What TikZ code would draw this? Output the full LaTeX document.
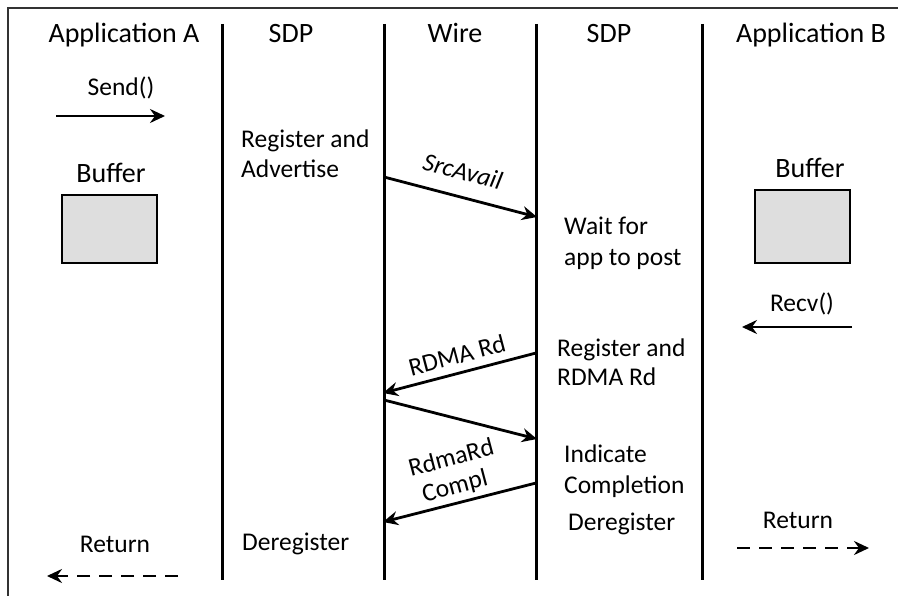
\documentclass[tikz,border=0pt]{standalone}
\usepackage{fontspec}
\setmainfont{Carlito}
\usetikzlibrary{arrows.meta}
\definecolor{boxfill}{RGB}{222,222,222}
\definecolor{framecol}{RGB}{50,50,50}
\begin{document}
\begin{tikzpicture}[x=1pt,y=-1pt,
  lbl/.style={inner sep=0pt,font=\fontsize{25.5}{30}\selectfont},
  head/.style={inner sep=0pt,font=\fontsize{28}{34}\selectfont},
  lifeline/.style={line width=3pt},
  msg/.style={line width=2.8pt,-{Stealth[length=15pt,width=14pt,inset=5pt]}},
  ret/.style={line width=2.8pt,dash pattern=on 13pt off 9pt,-{Stealth[length=15pt,width=14pt,inset=5pt]}},
  bufbox/.style={draw=black,line width=1.5pt,fill=boxfill}]
\useasboundingbox (0,0) rectangle (898,596);
% frame
\draw[framecol,line width=1.5pt] (898,8) -- (8,8) -- (8,596);
% lifelines
\coordinate (l1t) at (222,24); \coordinate (l1b) at (222,580);
\coordinate (l2t) at (384,24); \coordinate (l2b) at (384,580);
\coordinate (l3t) at (536,24); \coordinate (l3b) at (536,580);
\coordinate (l4t) at (702,24); \coordinate (l4b) at (702,580);
\draw[lifeline] (l1t) -- (l1b);
\draw[lifeline] (l2t) -- (l2b);
\draw[lifeline] (l3t) -- (l3b);
\draw[lifeline] (l4t) -- (l4b);
% headers
\node[head,anchor=base] (hA) at (124,43) {Application A};
\node[head,anchor=base] (hS1) at (291,43) {SDP};
\node[head,anchor=base] (hW) at (455,43) {Wire};
\node[head,anchor=base] (hS2) at (609,43) {SDP};
\node[head,anchor=base] (hB) at (811,43) {Application B};
% application A
\node[lbl,anchor=base] (send) at (121,96) {Send()};
\coordinate (sendS) at (56,116); \coordinate (sendE) at (165,116);
\draw[msg] (sendS) -- (sendE);
\node[head,anchor=base] (bufA) at (111,183) {Buffer};
\node[bufbox,minimum width=95pt,minimum height=68pt,inner sep=0pt] (boxA) at (109.5,229) {};
\node[lbl,anchor=base] (retA) at (115,552) {Return};
\coordinate (retAS) at (178,576); \coordinate (retAE) at (47,576);
\draw[ret] (retAS) -- (retAE);
% SDP left
\node[lbl,anchor=base west] (reg1) at (241,148) {Register and};
\node[lbl,anchor=base west] (reg2) at (241,178) {Advertise};
\node[lbl,anchor=base west] (dereg1) at (242,550) {Deregister};
% messages
\coordinate (m1s) at (384,177); \coordinate (m1e) at (537,217);
\draw[msg] (m1s) -- (m1e);
\node[lbl,rotate=-14.8,font=\fontsize{25.5}{30}\selectfont\itshape] (srcav) at (463,171) {SrcAvail};
\coordinate (m2s) at (536,353); \coordinate (m2e) at (383,393);
\draw[msg] (m2s) -- (m2e);
\node[lbl,rotate=14.8] (rdmard) at (457,355) {RDMA Rd};
\coordinate (m3s) at (384,400); \coordinate (m3e) at (537,439);
\draw[msg] (m3s) -- (m3e);
\coordinate (m4s) at (536,483); \coordinate (m4e) at (383,522);
\draw[msg] (m4s) -- (m4e);
\node[lbl,rotate=14.8] (compl1) at (451,457) {RdmaRd};
\node[lbl,rotate=14.8] (compl2) at (455,487) {Compl};
% SDP right
\node[lbl,anchor=base west] (wait1) at (564,235) {Wait for};
\node[lbl,anchor=base west] (wait2) at (564,266) {app to post};
\node[lbl,anchor=base west] (reg3) at (557,357) {Register and};
\node[lbl,anchor=base west] (reg4) at (557,385) {RDMA Rd};
\node[lbl,anchor=base west] (ind1) at (564,462) {Indicate};
\node[lbl,anchor=base west] (ind2) at (564,493) {Completion};
\node[lbl,anchor=base west] (dereg2) at (568,530) {Deregister};
% application B
\node[head,anchor=base] (bufB) at (810,178) {Buffer};
\node[bufbox,minimum width=95pt,minimum height=73pt,inner sep=0pt] (boxB) at (802.5,226.5) {};
\node[lbl,anchor=base] (recv) at (802,312) {Recv()};
\coordinate (recvS) at (852,327); \coordinate (recvE) at (742,327);
\draw[msg] (recvS) -- (recvE);
\node[lbl,anchor=base] (retB) at (798,528) {Return};
\coordinate (retBS) at (737,548); \coordinate (retBE) at (869,548);
\draw[ret] (retBS) -- (retBE);
\end{tikzpicture}
\end{document}
